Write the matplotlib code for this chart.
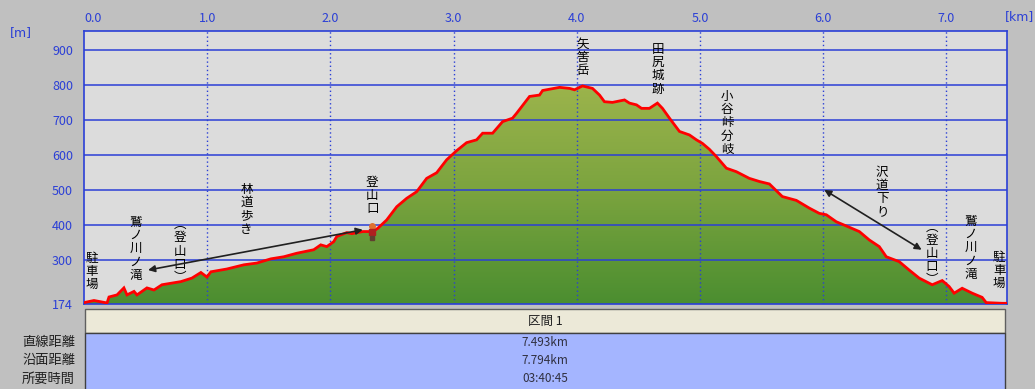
import matplotlib
matplotlib.use("Agg")
import matplotlib.pyplot as plt
import numpy as np
from matplotlib.colors import LinearSegmentedColormap
from matplotlib.patches import Polygon, Rectangle

plt.rcParams['font.family'] = ['Noto Sans CJK JP', 'DejaVu Sans']

# elevation profile (distance km, elevation m)
dist_km = [0.000, 0.081, 0.187, 0.203, 0.268, 0.324, 0.349, 0.406, 0.430, 0.511,
           0.568, 0.633, 0.787, 0.876, 0.949, 0.998, 1.030, 1.160, 1.298, 1.403,
           1.517, 1.622, 1.727, 1.865, 1.922, 1.971, 2.027, 2.052, 2.133, 2.174,
           2.263, 2.344, 2.384, 2.457, 2.539, 2.620, 2.701, 2.782, 2.863, 2.944,
           3.025, 3.106, 3.187, 3.236, 3.317, 3.398, 3.479, 3.512, 3.617, 3.698,
           3.723, 3.861, 3.942, 3.982, 4.047, 4.128, 4.185, 4.225, 4.290, 4.388,
           4.428, 4.485, 4.526, 4.590, 4.655, 4.696, 4.753, 4.834, 4.915, 4.972,
           5.020, 5.077, 5.134, 5.215, 5.296, 5.401, 5.483, 5.564, 5.669, 5.783,
           5.888, 5.969, 6.026, 6.107, 6.188, 6.294, 6.375, 6.456, 6.513, 6.618,
           6.699, 6.780, 6.886, 6.967, 7.023, 7.064, 7.129, 7.210, 7.291, 7.324,
           7.453, 7.493]
elev_m = [178, 184, 177, 194, 200, 220, 200, 210, 200, 220,
          214, 229, 238, 248, 264, 251, 266, 274, 286, 291,
          303, 309, 319, 329, 343, 338, 352, 367, 378, 375,
          381, 381, 390, 414, 452, 476, 495, 533, 549, 586,
          612, 635, 643, 662, 662, 695, 705, 719, 767, 771,
          784, 793, 790, 786, 797, 790, 771, 752, 750, 757,
          748, 743, 733, 733, 748, 733, 705, 667, 657, 643,
          633, 616, 595, 562, 552, 533, 524, 517, 481, 470,
          448, 433, 429, 409, 397, 381, 357, 338, 309, 295,
          271, 248, 229, 241, 224, 205, 219, 205, 193, 178,
          176, 176]

x_ticks = [0, 1, 2, 3, 4, 5, 6, 7]
y_ticks = [174, 300, 400, 500, 600, 700, 800, 900]

# place labels: (text, km, top elevation)
places = [
    ("駐車場", 0.065, 323),
    ("鷲ノ川ノ滝", 0.42, 426),
    ("︵登山口︶", 0.78, 419),
    ("林道歩き", 1.32, 520),
    ("登山口", 2.34, 540),
    ("矢筈岳", 4.05, 934),
    ("田尻城跡", 4.66, 920),
    ("小谷峠分岐", 5.22, 786),
    ("沢道下り", 6.48, 569),
    ("︵登山口︶", 6.885, 413),
    ("鷲ノ川ノ滝", 7.20, 429),
    ("駐車場", 7.43, 326),
]
arrows = [((0.52, 271), (2.263, 386)), ((6.01, 500), (6.80, 329))]

row_names = ["直線距離", "沿面距離", "所要時間"]
row_values = ["7.493km", "7.794km", "03:40:45"]
section_name = "区間 1"

W, H = 1035, 389
fig = plt.figure(figsize=(W / 100, H / 100), dpi=100, facecolor='#c0c0c0')
ax = fig.add_axes([84 / W, (H - 304) / H, 923 / W, 273 / H])
ax.set_facecolor('#dcdcdc')
xmax = 7.493
ax.set_xlim(0, xmax)
ax.set_ylim(174, 954)

blue = '#2b3fd6'
# gradient fill under profile
cmap = LinearSegmentedColormap.from_list('g', ['#4b8e30', '#7aa33e', '#9cb44c'])
grad = np.linspace(0, 1, 256).reshape(-1, 1)
im = ax.imshow(grad, extent=[0, xmax, 174, 800], aspect='auto', cmap=cmap,
               origin='lower', zorder=1)
verts = list(zip(dist_km, elev_m)) + [(dist_km[-1], 174), (0, 174)]
poly = Polygon(verts, facecolor='none', edgecolor='none')
ax.add_patch(poly)
im.set_clip_path(poly)

for v in y_ticks[1:]:
    ax.axhline(v, color=blue, lw=1.1, zorder=2)
for v in x_ticks[1:]:
    ax.axvline(v, color=blue, lw=1, ls=(0, (1, 2)), zorder=2)

ax.plot(dist_km, elev_m, color='#ff0000', lw=2.0, zorder=3, solid_joinstyle='miter')

ax.xaxis.tick_top()
ax.set_xticks(x_ticks)
ax.set_xticklabels([f"{v:.1f}" for v in x_ticks])
ax.set_yticks(y_ticks)
ax.set_yticklabels([str(v) for v in y_ticks])
ax.tick_params(length=0, colors=blue, labelsize=9)
ax.tick_params(axis='y', pad=8)
ax.tick_params(axis='x', pad=4)
ax.get_xticklabels()[0].set_horizontalalignment('left')
for s in ax.spines.values():
    s.set_color(blue)
    s.set_linewidth(1.2)

for text, x, y in places:
    ax.text(x, y, "\n".join(text), ha='center', va='top', fontsize=9,
            linespacing=1.02, color='black', zorder=4)

for (x0, y0), (x1, y1) in arrows:
    ax.annotate("", xy=(x0, y0), xytext=(x1, y1), zorder=4,
                arrowprops=dict(arrowstyle='<|-|>', color='#202020', lw=1.2,
                                mutation_scale=10, shrinkA=0, shrinkB=0))

# hiker
ax.plot([2.34], [398], marker='o', ms=4, color='#e07030', zorder=5)
ax.plot([2.34], [380], marker='s', ms=5, color='#b02020', zorder=5)
ax.plot([2.34], [362], marker='s', ms=3.5, color='#604030', zorder=5)

fig.text(10 / W, 1 - 33 / H, "[m]", color=blue, fontsize=9, va='center',
         family='DejaVu Sans')
fig.text(1020 / W, 1 - 17 / H, "[km]", color=blue, fontsize=9, va='center',
         ha='center', family='DejaVu Sans')

# table below
tab = fig.add_axes([84 / W, 0, 923 / W, 81 / H])
tab.set_xlim(0, 923)
tab.set_ylim(81, 0)
tab.axis('off')
tab.add_patch(Rectangle((1, 1), 920, 24, facecolor='#ece9d8', edgecolor='#606060', lw=1))
tab.add_patch(Rectangle((1, 25), 920, 60, facecolor='#a4b5ff', edgecolor='#404040', lw=1))
tab.text(461, 13, section_name, ha='center', va='center', fontsize=9, color='#202020')
for i, (name, val) in enumerate(zip(row_names, row_values)):
    yy = 34 + 18.5 * i
    tab.text(461, yy, val, ha='center', va='center', fontsize=8.5, color='#303040')
    fig.text(75 / W, 1 - (308 + yy) / H, name, ha='right', va='center',
             fontsize=9.5, color='#202020')

fig.savefig("out.png", dpi=100, facecolor=fig.get_facecolor())
